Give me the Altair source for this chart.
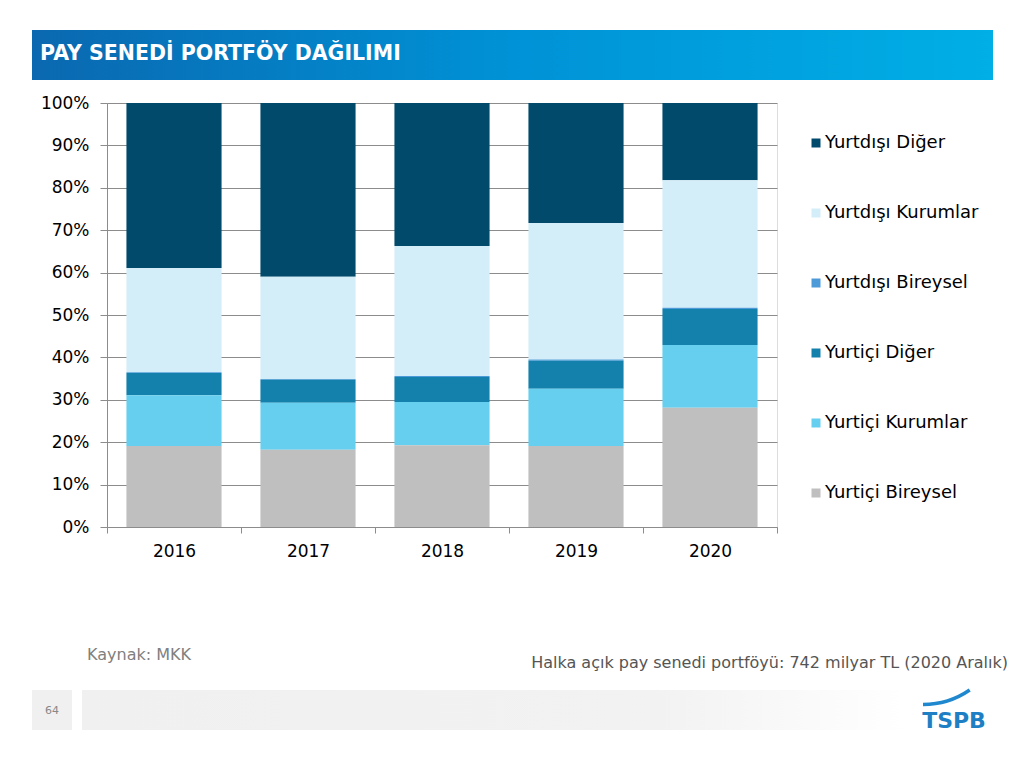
import altair as alt
import pandas as pd

years = ["2016", "2017", "2018", "2019", "2020"]
series = ["Yurtdışı Diğer", "Yurtdışı Kurumlar", "Yurtdışı Bireysel",
          "Yurtiçi Diğer", "Yurtiçi Kurumlar", "Yurtiçi Bireysel"]
colors = ["#014a6c", "#d3eef9", "#4c9bd8", "#1381ab", "#66cfef", "#bfbfbf"]

yurtdisi_diger = [38.9, 41.0, 33.7, 28.3, 18.2]
yurtdisi_kurumlar = [24.6, 24.1, 30.7, 32.2, 30.1]
yurtdisi_bireysel = [0.2, 0.2, 0.2, 0.3, 0.3]
yurtici_diger = [5.2, 5.4, 5.9, 6.6, 8.5]
yurtici_kurumlar = [12.0, 11.1, 10.2, 13.5, 14.8]
yurtici_bireysel = [19.1, 18.2, 19.3, 19.1, 28.1]

values = [yurtdisi_diger, yurtdisi_kurumlar, yurtdisi_bireysel,
          yurtici_diger, yurtici_kurumlar, yurtici_bireysel]

rows = []
for si, (name, vals) in enumerate(zip(series, values)):
    for y, v in zip(years, vals):
        rows.append({"Yıl": y, "Seri": name, "Değer": v, "sira": len(series) - si})
df = pd.DataFrame(rows)

FONT = "DejaVu Sans"

bars = alt.Chart(df).mark_bar(strokeWidth=0, width=alt.RelativeBandSize(0.71)).encode(
    x=alt.X("Yıl:N", title=None,
            scale=alt.Scale(paddingInner=0, paddingOuter=0),
            axis=alt.Axis(labelAngle=0, labelFontSize=17, labelColor="#000000",
                          labelFont=FONT, tickBand="extent", tickSize=6,
                          tickColor="#8c8c8c", domainColor="#8c8c8c",
                          labelPadding=10, grid=False)),
    y=alt.Y("Değer:Q", stack="normalize", title=None,
            scale=alt.Scale(domain=[0, 1]),
            axis=alt.Axis(format=".0%", values=[0, 0.1, 0.2, 0.3, 0.4, 0.5, 0.6, 0.7, 0.8, 0.9, 1.0],
                          labelFontSize=17, labelColor="#000000", labelFont=FONT,
                          tickSize=7, tickColor="#8c8c8c", domainColor="#8c8c8c",
                          gridColor="#8c8c8c", gridWidth=1.2, labelPadding=11)),
    color=alt.Color("Seri:N", title=None,
                    scale=alt.Scale(domain=series, range=colors),
                    legend=alt.Legend(orient="none", legendX=700, legendY=31,
                                      symbolType="square", symbolSize=81,
                                      symbolStrokeWidth=0, labelFontSize=18,
                                      labelFont=FONT, labelColor="#000000",
                                      rowPadding=52, labelOffset=0, padding=0)),
    order=alt.Order("sira:Q", sort="ascending"),
)

one = alt.Data(values=[{}])

header = alt.Chart(one).mark_rect(
    color=alt.LinearGradient(
        gradient="linear", x1=0, x2=1, y1=0, y2=0,
        stops=[alt.GradientStop(color="#0a68b0", offset=0),
               alt.GradientStop(color="#0092d6", offset=0.5),
               alt.GradientStop(color="#00afe6", offset=1)])
).encode(x=alt.value(-75), x2=alt.value(886), y=alt.value(-73), y2=alt.value(-23))

header_text = alt.Chart(one).mark_text(
    text="PAY SENEDİ PORTFÖY DAĞILIMI", font=FONT, fontSize=20.5, fontWeight="bold",
    color="#ffffff", align="left", baseline="middle"
).encode(x=alt.value(-67), y=alt.value(-49))

source_text = alt.Chart(one).mark_text(
    text="Kaynak: MKK", font=FONT, fontSize=16, color="#808080",
    align="left", baseline="middle"
).encode(x=alt.value(-20), y=alt.value(552))

note_text = alt.Chart(one).mark_text(
    text="Halka açık pay senedi portföyü: 742 milyar TL (2020 Aralık)", font=FONT,
    fontSize=16, color="#555555", align="right", baseline="middle"
).encode(x=alt.value(901), y=alt.value(560))

page_box = alt.Chart(one).mark_rect(color="#f0f0f0").encode(
    x=alt.value(-75), x2=alt.value(-35), y=alt.value(587), y2=alt.value(627))

page_text = alt.Chart(one).mark_text(
    text="64", font=FONT, fontSize=11, color="#888888", align="center", baseline="middle"
).encode(x=alt.value(-55), y=alt.value(608))

footer_bar = alt.Chart(one).mark_rect(
    color=alt.LinearGradient(
        gradient="linear", x1=0, x2=1, y1=0, y2=0,
        stops=[alt.GradientStop(color="#f0f0f0", offset=0),
               alt.GradientStop(color="#f2f2f2", offset=0.7),
               alt.GradientStop(color="#ffffff", offset=1)])
).encode(x=alt.value(-25), x2=alt.value(798), y=alt.value(587), y2=alt.value(627))

logo_text = alt.Chart(one).mark_text(
    text="TSPB", font=FONT, fontSize=22, fontWeight="bold", color="#1f7fc4",
    align="center", baseline="alphabetic"
).encode(x=alt.value(847), y=alt.value(625))

logo_arc = alt.Chart(one).mark_arc(color="#1f88cf").encode(
    x=alt.value(816), y=alt.value(519),
    radius=alt.value(84.3), radius2=alt.value(80.8),
    theta=alt.value(2.54), theta2=alt.value(3.1416))

chart = alt.layer(
    bars, header, header_text, source_text, note_text,
    page_box, page_text, footer_bar, logo_text, logo_arc
).properties(
    width=670, height=424,
    autosize=alt.AutoSizeParams(type="none"),
    padding={"left": 99, "top": 95, "right": 230, "bottom": 225},
).configure_view(stroke=None).configure(font=FONT)

chart.save("out.html", embed_options={"renderer": "svg", "actions": False})
